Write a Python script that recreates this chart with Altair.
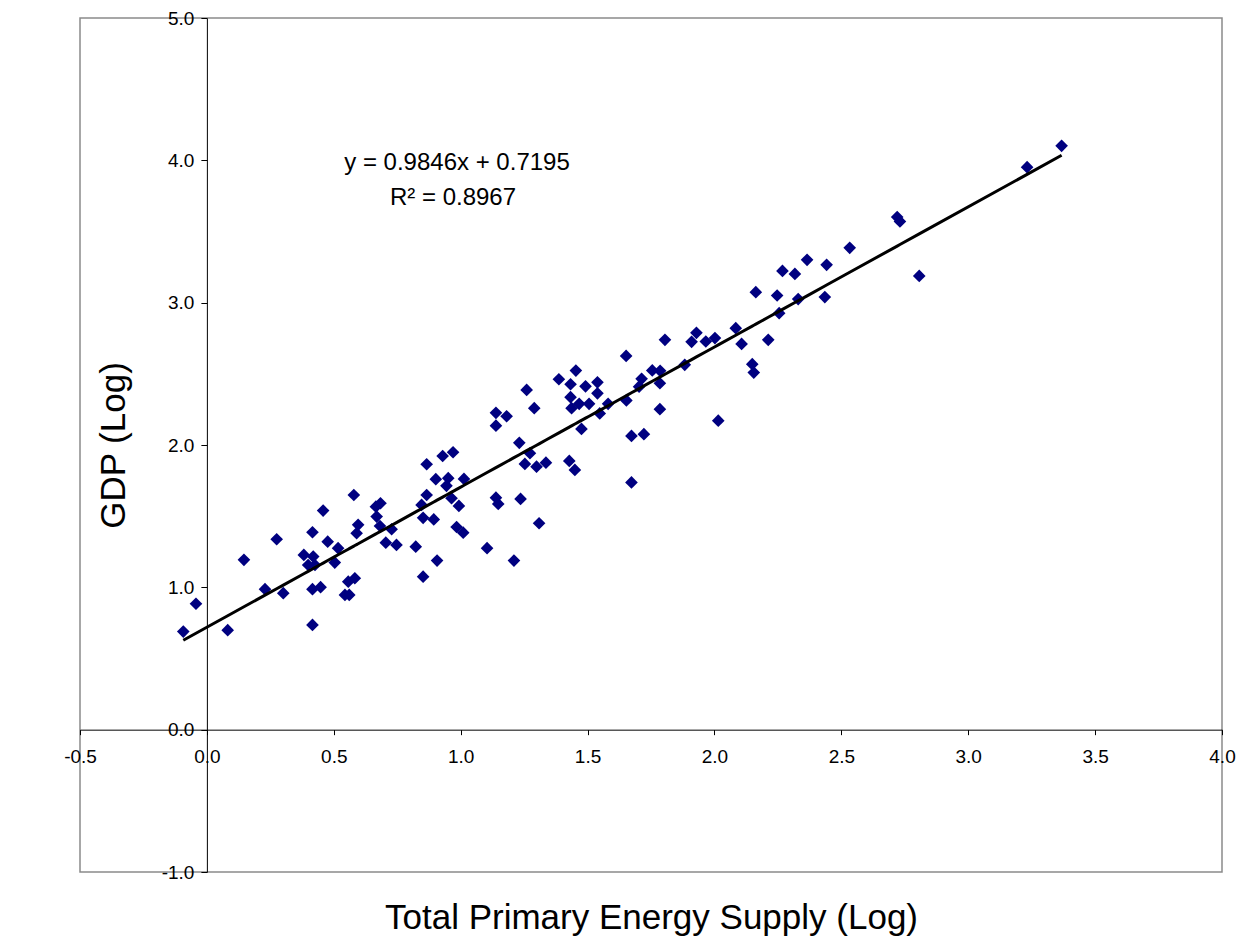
import altair as alt
import pandas as pd

# Total Primary Energy Supply (log) per country
tpes = [-0.093, -0.043, 0.082, 0.146, 0.229, 0.275, 0.301, 0.382, 0.419, 0.399,
        0.426, 0.416, 0.448, 0.416, 0.416, 0.458, 0.476, 0.517, 0.504, 0.557,
        0.583, 0.544, 0.561, 0.596, 0.590, 0.579, 0.666, 0.684, 0.669, 0.682,
        0.728, 0.705, 0.747, 0.823, 0.852, 0.907, 0.846, 0.852, 0.894, 0.984,
        1.010, 0.964, 0.993, 0.866, 0.929, 0.970, 0.902, 0.951, 0.944, 0.866,
        1.013, 1.139, 1.181, 1.139, 1.290, 1.231, 1.273, 1.253, 1.299, 1.336,
        1.139, 1.148, 1.236, 1.309, 1.104, 1.210, 1.260, 1.387, 1.454, 1.433,
        1.492, 1.539, 1.433, 1.539, 1.437, 1.467, 1.506, 1.548, 1.581, 1.653,
        1.785, 1.476, 1.673, 1.722, 1.673, 1.428, 1.450, 1.652, 1.805, 1.910,
        1.929, 1.713, 1.703, 1.755, 1.786, 1.785, 1.883, 1.966, 2.002, 2.084,
        2.107, 2.212, 2.149, 2.155, 2.015, 2.255, 2.163, 2.247, 2.330, 2.435,
        2.268, 2.317, 2.365, 2.442, 2.533, 2.720, 2.731, 2.807, 3.232, 3.368]

# GDP (log) per country
gdp = [0.689, 0.885, 0.699, 1.193, 0.987, 1.338, 0.959, 1.228, 1.216, 1.157,
       1.157, 0.987, 1.001, 0.736, 1.387, 1.539, 1.321, 1.275, 1.174, 1.040,
       1.064, 0.947, 0.947, 1.439, 1.380, 1.649, 1.567, 1.591, 1.497, 1.431,
       1.408, 1.314, 1.298, 1.286, 1.075, 1.188, 1.579, 1.488, 1.477, 1.424,
       1.384, 1.626, 1.572, 1.865, 1.923, 1.949, 1.760, 1.767, 1.713, 1.649,
       1.762, 2.226, 2.202, 2.136, 2.259, 2.015, 1.942, 1.867, 1.848, 1.876,
       1.630, 1.586, 1.621, 1.450, 1.275, 1.188, 2.387, 2.462, 2.523, 2.427,
       2.412, 2.440, 2.336, 2.363, 2.259, 2.289, 2.289, 2.222, 2.289, 2.313,
       2.252, 2.113, 2.064, 2.076, 1.737, 1.888, 1.825, 2.626, 2.739, 2.725,
       2.788, 2.465, 2.410, 2.524, 2.521, 2.434, 2.563, 2.727, 2.751, 2.821,
       2.710, 2.739, 2.568, 2.509, 2.171, 2.926, 3.074, 3.050, 3.025, 3.039,
       3.223, 3.202, 3.301, 3.266, 3.385, 3.601, 3.570, 3.188, 3.952, 4.102]

slope = 0.9846
intercept = 0.7195
r_squared = 0.8967

x_ticks = [-0.5, 0.0, 0.5, 1.0, 1.5, 2.0, 2.5, 3.0, 3.5, 4.0]
y_ticks = [-1.0, 0.0, 1.0, 2.0, 3.0, 4.0, 5.0]

W, H = 1142, 854
FONT = "Liberation Sans, Arial, sans-serif"
LABEL_EXPR = "(datum.value < 0 ? '-' : '') + format(abs(datum.value), '.1f')"

df = pd.DataFrame({"tpes": tpes, "gdp": gdp})

xscale = alt.Scale(domain=[x_ticks[0], x_ticks[-1]], nice=False, zero=False)
yscale = alt.Scale(domain=[y_ticks[0], y_ticks[-1]], nice=False, zero=False)

# pixel offsets that move each axis onto the zero line of the other
x_axis_shift = -H * (0 - y_ticks[0]) / (y_ticks[-1] - y_ticks[0])
y_axis_shift = -W * (0 - x_ticks[0]) / (x_ticks[-1] - x_ticks[0])

xaxis = alt.Axis(values=x_ticks, labelExpr=LABEL_EXPR, offset=x_axis_shift,
                 grid=False, domainColor="black", domainWidth=1,
                 tickColor="black", tickSize=5, labelPadding=13,
                 labelFontSize=19, labelFont=FONT, labelColor="black",
                 labelFlush=False, labelOverlap=False,
                 title="Total Primary Energy Supply (Log)", titleFont=FONT,
                 titleFontSize=35, titleFontWeight="normal", titleColor="black",
                 titleY=-x_axis_shift + 56, titleBaseline="alphabetic")
yaxis = alt.Axis(values=y_ticks, labelExpr=LABEL_EXPR, offset=y_axis_shift,
                 grid=False, domainColor="black", domainWidth=1,
                 tickColor="black", tickSize=6, labelPadding=7,
                 labelFontSize=19, labelFont=FONT, labelColor="black",
                 labelFlush=False, labelOverlap=False,
                 title="GDP (Log)", titleFont=FONT, titleFontSize=35,
                 titleFontWeight="normal", titleColor="black",
                 titleX=y_axis_shift + 44, titleBaseline="alphabetic")

base = alt.Chart(df)

points = base.mark_point(shape="diamond", filled=True, color="#000080",
                         size=160, opacity=1).encode(
    x=alt.X("tpes:Q", scale=xscale, axis=xaxis),
    y=alt.Y("gdp:Q", scale=yscale, axis=yaxis),
)

trend = base.transform_calculate(
    fit=f"{slope} * datum.tpes + {intercept}"
).mark_line(color="black", strokeWidth=3).encode(
    x=alt.X("tpes:Q", scale=xscale),
    y=alt.Y("fit:Q", scale=yscale),
    order="tpes:Q",
)

eq1 = alt.Chart(pd.DataFrame({"t": [f"y = {slope}x + {intercept}"]})).mark_text(
    font=FONT, fontSize=24, color="black", align="center", baseline="middle"
).encode(text="t:N", x=alt.value(377), y=alt.value(145))

eq2 = alt.Chart(pd.DataFrame({"t": [f"R\u00b2 = {r_squared}"]})).mark_text(
    font=FONT, fontSize=24, color="black", align="center", baseline="middle"
).encode(text="t:N", x=alt.value(373), y=alt.value(180))

chart = alt.layer(points, trend, eq1, eq2).properties(
    width=W, height=H,
    autosize=alt.AutoSizeParams(type="none"),
    padding={"left": 80, "top": 18, "right": 18, "bottom": 68},
    background="white",
).configure_view(stroke="#8a8a8a", strokeWidth=1.5)

chart.save("out.html", embed_options={"renderer": "svg", "actions": False})
